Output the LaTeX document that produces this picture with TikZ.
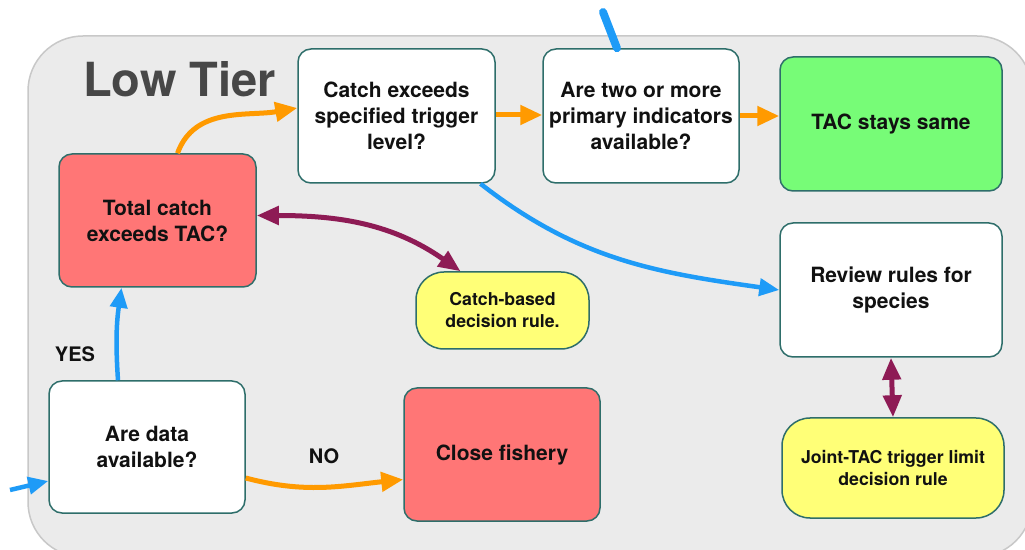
\documentclass[tikz,border=0pt]{standalone}
\usepackage{fontspec}
\setmainfont{TeX Gyre Heros}
\usetikzlibrary{arrows.meta}
\definecolor{panelfill}{HTML}{EBEBEB}
\definecolor{panelborder}{HTML}{C8C8C8}
\definecolor{boxborder}{HTML}{2E6E6A}
\definecolor{redfill}{HTML}{FF7676}
\definecolor{greenfill}{HTML}{77FC77}
\definecolor{yellowfill}{HTML}{FFFF77}
\definecolor{myblue}{HTML}{1E9BF7}
\definecolor{myorange}{HTML}{FF9A00}
\definecolor{mypurple}{HTML}{8E1B55}
\definecolor{tiergray}{HTML}{474747}
\definecolor{txt}{HTML}{111111}
\begin{document}
\begin{tikzpicture}[x=1pt,y=1pt,
  box/.style={draw=boxborder, line width=1.5pt, rounded corners=13pt, align=center,
    inner sep=2pt, text=txt, font=\fontsize{21}{26}\selectfont\bfseries,
    minimum width=197pt, minimum height=134pt},
  rulebox/.style={box, fill=yellowfill, rounded corners=28pt,
    font=\fontsize{17.7}{22}\selectfont\bfseries},
  lbl/.style={inner sep=0pt, text=txt, font=\fontsize{20}{24}\selectfont\bfseries},
  bluearrow/.style={draw=myblue, line width=4.5pt, -{Triangle[length=20pt,width=17pt]}},
  orangearrow/.style={draw=myorange, line width=5pt, -{Triangle[length=22pt,width=19pt]}},
  purplearrow/.style={draw=mypurple, line width=5pt, {Triangle[length=22pt,width=18pt]}-{Triangle[length=22pt,width=18pt]}},
  topline/.style={draw=myblue, line width=8pt, line cap=round}
]
\useasboundingbox (0,0) rectangle (1025,549);
% panel
\draw[draw=panelborder, fill=panelfill, line width=1.5pt, rounded corners=55pt] (28,513) rectangle (1032,-8);
\node[anchor=base west, inner sep=0pt, text=tiergray, font=\fontsize{47}{47}\selectfont\bfseries] (tier) at (83,452) {Low Tier};

% nodes
\node[box, fill=white] (catch) at (396.5,433) {Catch exceeds\\specified trigger\\level?};
\node[box, fill=redfill, minimum height=133pt] (total) at (157.5,328.5) {Total catch\\exceeds TAC?};
\node[box, fill=white, minimum width=196pt] (two) at (641,433) {Are two or more\\primary indicators\\available?};
\node[box, fill=greenfill, minimum width=222pt] (same) at (891,425) {TAC stays same};
\node[box, fill=white, minimum width=222pt] (review) at (891,259) {Review rules for\\species};
\node[rulebox, minimum width=222pt, minimum height=100pt] (joint) at (893,81) {Joint-TAC trigger limit\\decision rule};
\node[rulebox, minimum width=173pt, minimum height=77pt] (cbased) at (502.5,238.5) {Catch-based\\decision rule.};
\node[box, fill=white, minimum width=196pt, minimum height=132pt] (data) at (147,102) {Are data\\available?};
\node[box, fill=redfill, minimum width=196pt, minimum height=133pt] (close) at (502,94.5) {Close fishery};

\node[lbl, anchor=base] (yes) at (75,187) {YES};
\node[lbl, anchor=base] (no) at (324,86) {NO};

% connectors
\coordinate (entry) at (10,59);
\draw[bluearrow] (entry) -- ([yshift=-34pt]data.west);
\draw[bluearrow] ([xshift=-29pt]data.north) to[bend left=6] ([xshift=-36pt]total.south);
\draw[orangearrow] ([xshift=20pt]total.north) to[out=70,in=190] ([yshift=8pt]catch.west);
\draw[orangearrow] ([yshift=1pt]catch.east) -- ([yshift=1pt]two.west);
\draw[orangearrow] (two.east) -- (two.east -| same.west);
\draw[bluearrow] ([xshift=84pt]catch.south) to[out=-38,in=172] (review.west);
\draw[orangearrow] ([yshift=-31pt]data.east) to[out=-15,in=186] ([yshift=-25pt]close.west);
\coordinate (topend) at (603,537);
\draw[topline] (topend) -- ([xshift=-24pt]two.north);
\draw[purplearrow] ([yshift=5pt]total.east) to[out=0,in=145] ([xshift=-42pt]cbased.north);
\draw[purplearrow] (review.south) -- (joint.north);
\end{tikzpicture}
\end{document}
